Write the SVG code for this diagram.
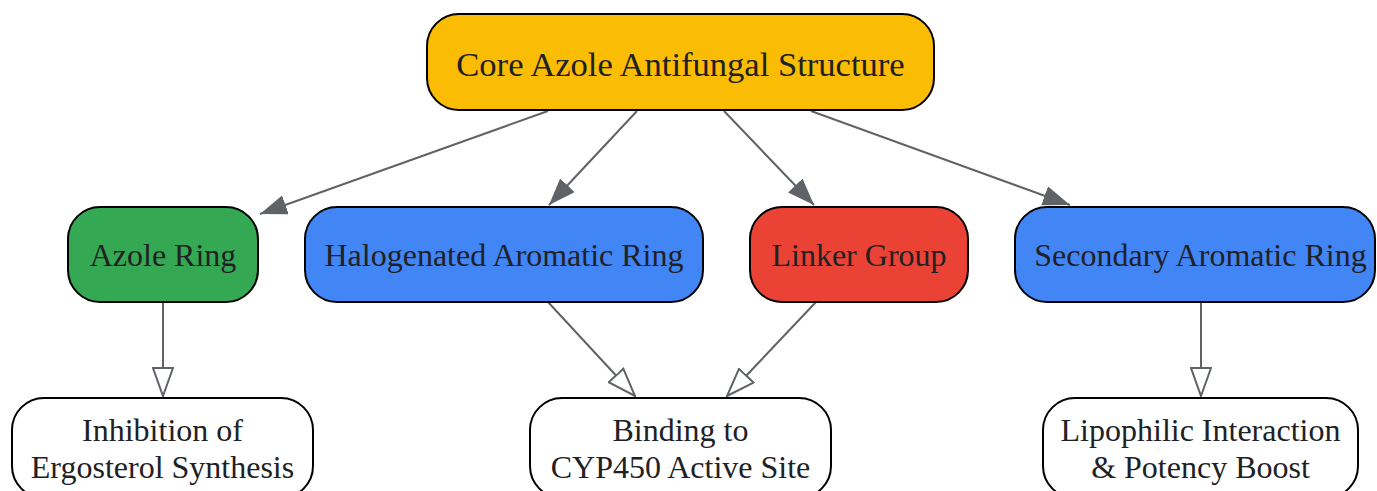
<svg xmlns="http://www.w3.org/2000/svg" width="1377" height="491" viewBox="0 0 1377 491">
<style>
.n{stroke:#000;stroke-width:2}
.t{font-family:"Liberation Serif","Times New Roman",serif;font-size:32px;fill:#202124;text-anchor:middle}
.e{stroke:#5f6368;stroke-width:2;fill:none}
</style>
<defs>
<marker id="af" viewBox="0 0 27 20" refX="27" refY="10" markerWidth="27" markerHeight="20" orient="auto" markerUnits="userSpaceOnUse"><path d="M0,0 L27,10 L0,20 z" fill="#5f6368"/></marker>
<marker id="ao" viewBox="0 0 30 22" refX="29" refY="11" markerWidth="30" markerHeight="22" orient="auto" markerUnits="userSpaceOnUse"><path d="M1,1 L29,11 L1,21 z" fill="#fff" stroke="#5f6368" stroke-width="2"/></marker>
</defs>
<rect width="1377" height="491" fill="#fff"/>
<g id="connectors">
<path class="e" d="M548,111 L260,214" marker-end="url(#af)"/>
<path class="e" d="M637,111 L549,205" marker-end="url(#af)"/>
<path class="e" d="M724,111 L814,205" marker-end="url(#af)"/>
<path class="e" d="M811,111 L1070,205" marker-end="url(#af)"/>
<path class="e" d="M163,302 L163,396" marker-end="url(#ao)"/>
<path class="e" d="M548,302 L635,396" marker-end="url(#ao)"/>
<path class="e" d="M816,302 L727,396" marker-end="url(#ao)"/>
<path class="e" d="M1201,302 L1201,396" marker-end="url(#ao)"/>
</g>
<g id="core"><rect class="n" x="427" y="14" width="507" height="96" rx="32" fill="#fbbc04"/><text class="t" x="680.5" y="76" style="font-size:34.6px">Core Azole Antifungal Structure</text></g>
<g id="azole"><rect class="n" x="68" y="207" width="190" height="95" rx="32" fill="#34a853"/><text class="t" x="163" y="266">Azole Ring</text></g>
<g id="halo"><rect class="n" x="305" y="207" width="398" height="95" rx="32" fill="#4285f4"/><text class="t" x="504" y="266">Halogenated Aromatic Ring</text></g>
<g id="linker"><rect class="n" x="750" y="207" width="218" height="95" rx="32" fill="#ea4335"/><text class="t" x="859" y="266">Linker Group</text></g>
<g id="secondary"><rect class="n" x="1015" y="207" width="360" height="95" rx="32" fill="#4285f4"/><text class="t" x="1200.5" y="266">Secondary Aromatic Ring</text></g>
<g id="inhibition"><rect class="n" x="12" y="398" width="301" height="100" rx="32" fill="#fff"/><text class="t" x="162.5" y="441">Inhibition of</text><text class="t" x="162.5" y="478">Ergosterol Synthesis</text></g>
<g id="binding"><rect class="n" x="530" y="398" width="301" height="100" rx="32" fill="#fff"/><text class="t" x="680.5" y="441">Binding to</text><text class="t" x="680.5" y="478">CYP450 Active Site</text></g>
<g id="lipophilic"><rect class="n" x="1043" y="398" width="315" height="100" rx="32" fill="#fff"/><text class="t" x="1200.5" y="441">Lipophilic Interaction</text><text class="t" x="1200.5" y="478">&amp; Potency Boost</text></g>
</svg>
